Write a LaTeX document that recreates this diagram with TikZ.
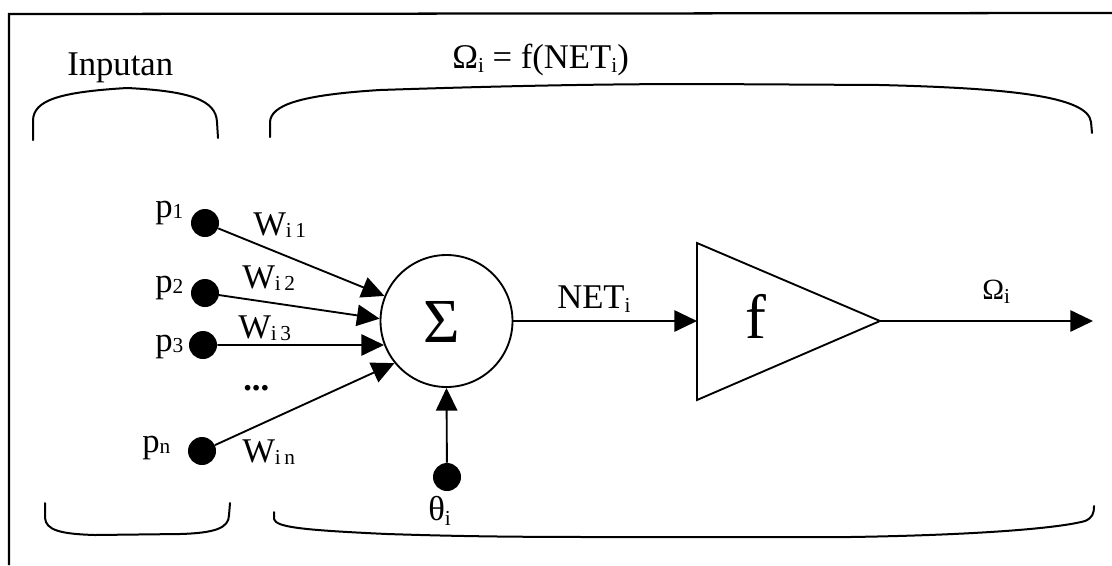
\documentclass[tikz,border=0pt]{standalone}
\usepackage{fontspec}
\setmainfont{Liberation Serif}
\usetikzlibrary{arrows.meta}
\newcommand\lsub[2][3pt]{\raisebox{-#1}{\fontsize{16}{16}\selectfont #2}}
\begin{document}
\begin{tikzpicture}[x=0.75pt,y=-0.75pt,
  lbl/.style={font=\fontsize{26}{28}\selectfont, inner sep=0pt, anchor=base west},
  big/.style={font=\fontsize{47}{50}\selectfont, inner sep=0pt, anchor=base},
  dot/.style={circle, fill=black, minimum size=21pt, inner sep=0pt},
  conn/.style={line width=1.4pt, -{Triangle[length=17pt,width=16pt]}},
  brace/.style={line width=1.5pt, line cap=round, line join=round},
  frame/.style={line width=1.7pt}]
\useasboundingbox (0,0) rectangle (1112,565);
% frame
\draw[frame] (9,565) -- (9,14) -- (1112,13);
% titles
\node[lbl] (inp) at (67,75) {Inputan};
\node[lbl] (form) at (452,68) {Ω\lsub{i} = f(NET\lsub{i})};
% braces
\draw[brace] (33,140) -- (33,120) .. controls (34,100) and (60,92) .. (127,88)
  .. controls (190,91) and (216,100) .. (217,122) -- (218,138);
\draw[brace] (270,137) -- (270,122) .. controls (271,105) and (300,95) .. (380,90)
  .. controls (500,86) and (600,84) .. (700,84) -- (880,85)
  .. controls (1000,88) and (1088,95) .. (1091,122) -- (1092,133);
\draw[brace] (45,503) -- (45,518) .. controls (46,530) and (60,534) .. (95,535)
  -- (180,534) .. controls (215,533) and (229,528) .. (229,515) -- (230,503);
\draw[brace] (274,512) -- (274,519) .. controls (276,527) and (300,530) .. (387,534)
  .. controls (450,536) and (500,537) .. (600,537) -- (850,537)
  .. controls (980,535) and (1060,528) .. (1085,521)
  .. controls (1092,518) and (1094,514) .. (1094,506);
% inputs
\node[dot] (p1) at (205,223) {};
\node[dot] (p2) at (205,293) {};
\node[dot] (p3) at (203,345) {};
\node[dot] (pn) at (202,451) {};
\node[dot] (th) at (447,477) {};
\node[lbl] (lp1) at (155,217) {p\lsub[1pt]{1}};
\node[lbl] (lp2) at (155,292) {p\lsub[1pt]{2}};
\node[lbl] (lp3) at (155,351) {p\lsub[1pt]{3}};
\node[lbl] (lpn) at (142,452) {p\lsub[1pt]{n}};
\node[lbl] (w1) at (253,235) {W\lsub[2pt]{i\,1}};
\node[lbl] (w2) at (242,288) {W\lsub[2pt]{i\,2}};
\node[lbl] (w3) at (238,338) {W\lsub[2pt]{i\,3}};
\node[lbl] (wn) at (242,462) {W\lsub[2pt]{i\,n}};
\node[lbl] (dots) at (243,390) {\textbf{...}};
\node[lbl] (lth) at (428,520) {θ\lsub[4pt]{i}};
% summation
\node[circle, draw, line width=1.4pt, minimum size=99pt, inner sep=0pt] (sig) at (446.5,321) {};
\node[big] (sym) at (442,342) {Σ};
\draw[conn] (p1) -- (sig.158);
\draw[conn] (p2) -- (sig.178);
\draw[conn] (p3) -- (sig.201);
\draw[conn] (pn) -- (sig.219);
\draw[conn] (th) -- (sig.south);
% activation
\coordinate (ttop) at (697,243);
\coordinate (tbot) at (697,400);
\coordinate (tapx) at (880,321);
\coordinate (tin) at (697,321);
\coordinate (outend) at (1093,321);
\draw[line width=1.4pt, line join=miter] (ttop) -- (tapx) -- (tbot) -- cycle;
\node[big] (fsym) at (756,338) {f};
\draw[conn] (sig.east) -- (tin);
\draw[conn] (tapx) -- (outend);
\node[lbl] (net) at (557,308) {NET\lsub{i}};
\node[lbl, font=\fontsize{22}{24}\selectfont] (om) at (982,299) {Ω\lsub{i}};
\end{tikzpicture}
\end{document}
